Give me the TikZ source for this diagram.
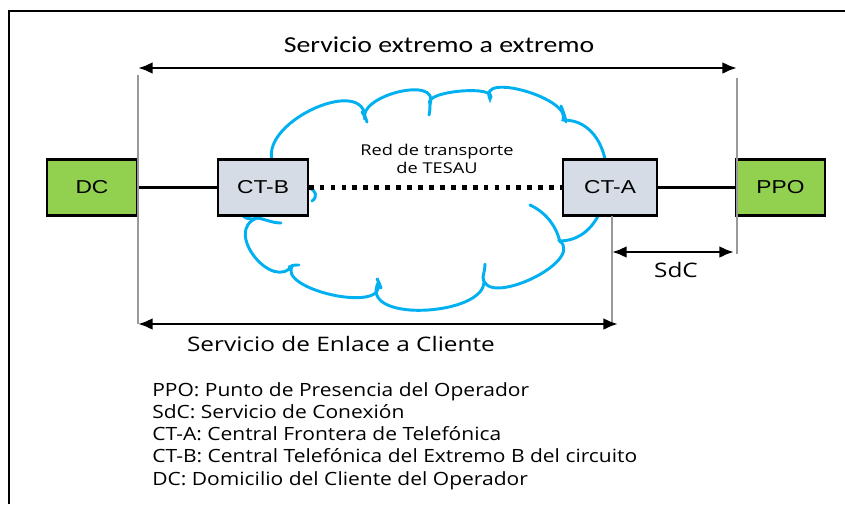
\documentclass[tikz,border=0pt]{standalone}
\usepackage{fontspec}
\setmainfont{Carlito}[FakeStretch=1.22]
\newfontfamily\labelfont{Open Sans}[FakeStretch=1.22]
\newfontfamily\legendfont{Open Sans}[FakeStretch=1.15]
\newfontfamily\boxfont{Liberation Sans}[FakeStretch=1.22]
\usepackage{xcolor}
\usetikzlibrary{arrows.meta}
\definecolor{sitegreen}{HTML}{92D050}
\definecolor{centralgray}{HTML}{D6DCE5}
\definecolor{netblue}{HTML}{00B0F0}

\begin{document}
\begin{tikzpicture}[
        x=0.75pt, y=-0.75pt,
        site/.style={rectangle, draw, line width=1.6pt, fill=sitegreen, minimum width=67pt, minimum height=42pt, font=\boxfont\fontsize{14}{16}\selectfont},
        central/.style={site, fill=centralgray},
        link/.style={line width=2.2pt},
        trunk/.style={line width=3.6pt, dash pattern=on 3.6pt off 4.6pt},
        span/.style={{Latex[length=11pt,width=9pt]}-{Latex[length=11pt,width=9pt]}, line width=2.2pt},
        guide/.style={draw=black!40, line width=1.1pt},
        netline/.style={draw=netblue, line width=2.2pt, line cap=round},
        caption/.style={font=\labelfont\fontsize{15}{18}\selectfont},
        legend/.style={font=\legendfont\fontsize{13.7}{16}\selectfont, anchor=base west, inner sep=0pt}
    ]
        \useasboundingbox (0,0) rectangle (845,504);

        % Frame
        \draw[line width=1.6pt] (9,504) -- (9,11) -- (845,11);

        % Transport network cloud
        \draw[netline] (272,160)
            .. controls (262,120) and (367.7,74) .. (365,120)
            .. controls (356,95.7) and (440.5,74.9) .. (430,104)
            .. controls (422.3,90.8) and (500.3,84.3) .. (490,99)
            .. controls (477,71.2) and (572,98.5) .. (563,120)
            .. controls (623.7,119.3) and (620.7,240.3) .. (560,241)
            .. controls (584.3,262.3) and (484.2,309.1) .. (483,277)
            .. controls (496.2,314.8) and (358.4,325.2) .. (378,283)
            .. controls (387,314.7) and (274,288.7) .. (293,265)
            .. controls (273.2,293.2) and (222.5,230.8) .. (257,218)
            .. controls (222,228) and (241.5,152.6) .. (272,160);
        % inner curls
        \draw[netline] (257,218) .. controls (265,219) and (272,223) .. (281,223);
        \draw[netline] (289,267) .. controls (292,265) and (295,265) .. (299,265);
        \draw[netline] (377,279) .. controls (379,282) and (380,285) .. (381,288);
        \draw[netline] (485,264) .. controls (485,268) and (484,272) .. (483,277);
        \draw[netline] (530,205) .. controls (545,212) and (556,225) .. (560,242);
        \draw[netline] (362,112) .. controls (364,115) and (366,118) .. (367,122);
        \draw[netline] (430,103) .. controls (430,107) and (430,111) .. (429,115);
        \draw[netline] (561,106) .. controls (563,111) and (565,116) .. (566,122);
        \draw[netline] (309,188) .. controls (316,190) and (318,197) .. (312,201);
        \node[font=\labelfont\fontsize{11.2}{13.5}\selectfont, align=center, anchor=base] (netlabel) at (437,173) {Red de transporte\\de TESAU};

        % Sites and exchanges
        \node[site] (dc) at (92,187.5) {DC};
        \node[central] (ctb) at (263,187.5) {CT-B};
        \node[central, minimum width=70pt] (cta) at (610,187.5) {CT-A};
        \node[site] (ppo) at (780.5,187.5) {PPO};

        % Connections
        \draw[link] (dc) -- (ctb);
        \draw[trunk] (ctb) -- (cta);
        \draw[link] (cta) -- (ppo);

        % Guide lines
        \coordinate (gl_top) at (138,75);
        \coordinate (gl_bot) at (138,324);
        \coordinate (gr_top) at (737,78);
        \coordinate (gr_bot) at (737,254);
        \coordinate (gm_top) at (612,216);
        \coordinate (gm_bot) at (612,324);
        \draw[guide] (gl_top) -- (gl_bot);
        \draw[guide] (gr_top) -- (gr_bot);
        \draw[guide] (gm_top) -- (gm_bot);

        % Service spans
        \coordinate (e2e_l) at (138,68);
        \coordinate (e2e_r) at (737,68);
        \coordinate (sdc_l) at (612,252);
        \coordinate (sdc_r) at (734,252);
        \coordinate (sec_l) at (138,324);
        \coordinate (sec_r) at (618,324);
        \draw[span] (e2e_l) -- (e2e_r);
        \draw[span] (sdc_l) -- (sdc_r);
        \draw[span] (sec_l) -- (sec_r);

        \node[font=\fontsize{17.1}{20}\selectfont, anchor=base] (e2e) at (439,52) {Servicio extremo a extremo};
        \node[caption, anchor=base] (sdc) at (676,277) {SdC};
        \node[caption, anchor=base] (sec) at (341,351) {Servicio de Enlace a Cliente};

        % Legend
        \node[legend] (leg1) at (152,396) {PPO: Punto de Presencia del Operador};
        \node[legend] (leg2) at (152,418.3) {SdC: Servicio de Conexión};
        \node[legend] (leg3) at (152,440.6) {CT-A: Central Frontera de Telefónica};
        \node[legend] (leg4) at (152,462.9) {CT-B: Central Telefónica del Extremo B del circuito};
        \node[legend] (leg5) at (152,485.2) {DC: Domicilio del Cliente del Operador};

    \end{tikzpicture}
\end{document}
